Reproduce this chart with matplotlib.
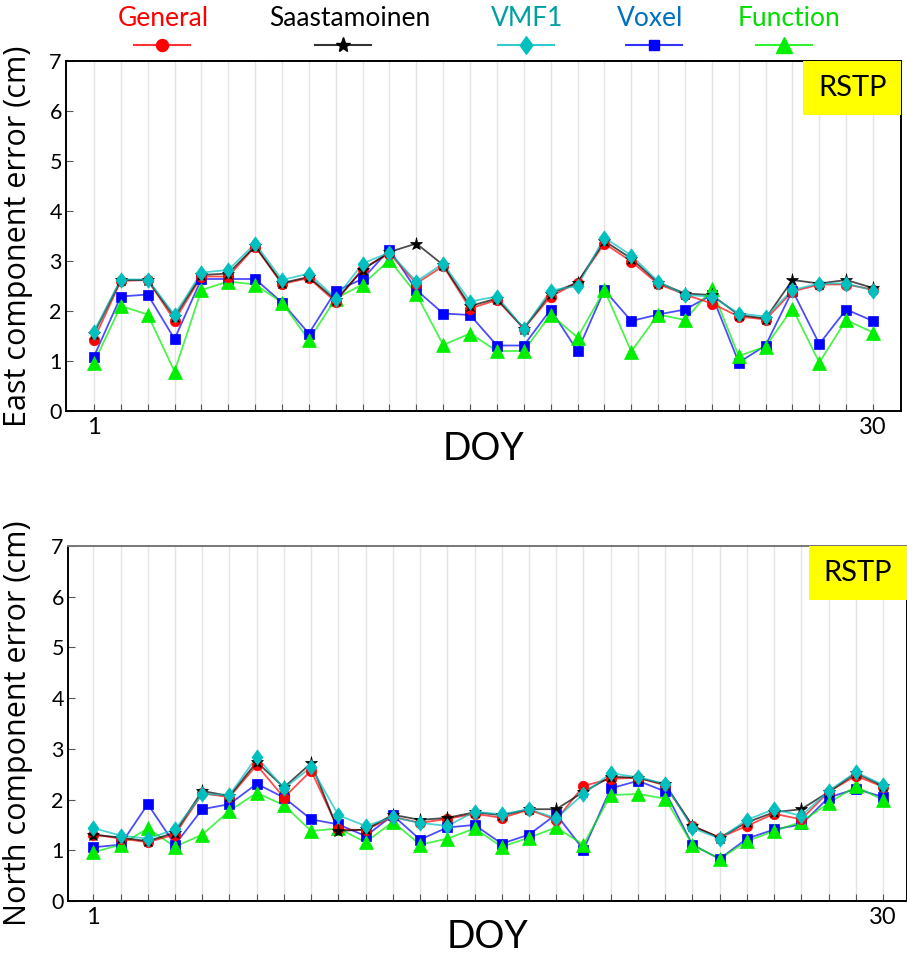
import matplotlib
matplotlib.use("Agg")
import matplotlib.pyplot as plt
from matplotlib.lines import Line2D
from matplotlib.patches import Rectangle
from matplotlib.path import Path
from matplotlib import font_manager

# ---- data -------------------------------------------------------------
days = list(range(1, 31))
models = ["General", "Saastamoinen", "VMF1", "Voxel", "Function"]

east_general = [1.43, 2.60, 2.62, 1.81, 2.69, 2.69, 3.29, 2.54, 2.66, 2.18,
                2.85, 3.15, 2.55, 2.90, 2.05, 2.22, 1.65, 2.29, 2.57, 3.35,
                2.99, 2.54, 2.33, 2.15, 1.89, 1.83, 2.39, 2.53, 2.53, 2.43]
east_saast = [1.55, 2.62, 2.62, 1.88, 2.72, 2.75, 3.30, 2.56, 2.68, 2.22,
              2.82, 3.18, 3.35, 2.92, 2.10, 2.25, 1.65, 2.35, 2.57, 3.40,
              3.05, 2.57, 2.35, 2.32, 1.92, 1.85, 2.62, 2.55, 2.62, 2.46]
east_vmf1 = [1.59, 2.63, 2.63, 1.92, 2.77, 2.82, 3.35, 2.62, 2.75, 2.25,
             2.95, 3.17, 2.59, 2.95, 2.19, 2.29, 1.65, 2.41, 2.50, 3.47,
             3.11, 2.59, 2.32, 2.29, 1.95, 1.89, 2.42, 2.55, 2.55, 2.41]
east_voxel = [1.09, 2.29, 2.33, 1.44, 2.64, 2.64, 2.64, 2.17, 1.55, 2.40,
              2.64, 3.23, 2.42, 1.95, 1.92, 1.31, 1.31, 2.03, 1.20, 2.42,
              1.80, 1.93, 2.03, 2.32, 0.97, 1.31, 2.41, 1.34, 2.03, 1.80]
east_function = [0.97, 2.10, 1.93, 0.79, 2.42, 2.59, 2.53, 2.17, 1.42, 2.25,
                 2.53, 3.02, 2.34, 1.32, 1.55, 1.20, 1.20, 1.93, 1.47, 2.42,
                 1.19, 1.93, 1.82, 2.44, 1.10, 1.29, 2.05, 0.97, 1.82, 1.57]

north_general = [1.31, 1.23, 1.16, 1.31, 2.12, 2.05, 2.68, 2.04, 2.57, 1.41,
                 1.40, 1.66, 1.54, 1.62, 1.72, 1.64, 1.80, 1.60, 2.27, 2.41,
                 2.43, 2.28, 1.48, 1.25, 1.48, 1.72, 1.61, 2.15, 2.47, 2.25]
north_saast = [1.31, 1.25, 1.18, 1.35, 2.17, 2.07, 2.74, 2.24, 2.72, 1.38,
               1.41, 1.70, 1.60, 1.64, 1.75, 1.69, 1.81, 1.81, 2.15, 2.45,
               2.43, 2.30, 1.48, 1.25, 1.55, 1.75, 1.81, 2.15, 2.52, 2.27]
north_vmf1 = [1.44, 1.29, 1.23, 1.41, 2.11, 2.09, 2.84, 2.22, 2.64, 1.69,
              1.48, 1.65, 1.54, 1.48, 1.76, 1.71, 1.81, 1.63, 2.11, 2.52,
              2.44, 2.31, 1.44, 1.23, 1.60, 1.81, 1.68, 2.17, 2.54, 2.29]
north_voxel = [1.06, 1.11, 1.91, 1.11, 1.81, 1.91, 2.31, 2.04, 1.61, 1.51,
               1.28, 1.69, 1.21, 1.45, 1.50, 1.13, 1.31, 1.71, 1.01, 2.22,
               2.37, 2.16, 1.11, 0.83, 1.23, 1.41, 1.51, 2.04, 2.21, 2.05]
north_function = [0.96, 1.11, 1.43, 1.07, 1.31, 1.78, 2.13, 1.89, 1.38, 1.43,
                  1.16, 1.56, 1.11, 1.23, 1.43, 1.07, 1.25, 1.45, 1.11, 2.09,
                  2.11, 2.02, 1.11, 0.83, 1.18, 1.38, 1.56, 1.93, 2.26, 1.99]

y_ticks = [0, 1, 2, 3, 4, 5, 6, 7]
x_tick_labels = {1: "1", 30: "30"}
station = "RSTP"

# ---- styles -----------------------------------------------------------
def pick(*names):
    avail = {f.name for f in font_manager.fontManager.ttflist}
    for n in names:
        if n in avail:
            return n
    return "DejaVu Sans"

FONT_MAIN = pick("Lato", "Open Sans", "DejaVu Sans")
FONT_NARROW = pick("Liberation Sans Narrow", "Lato", "DejaVu Sans")
FONT_LABEL = pick("Open Sans", "Noto Sans", "DejaVu Sans")

tall_diamond = Path([(0, 1), (0.72, 0), (0, -1), (-0.72, 0), (0, 1)],
                    [Path.MOVETO, Path.LINETO, Path.LINETO, Path.LINETO, Path.CLOSEPOLY])

style = {
    "General":      dict(color="#FF0000", marker="o", ms=7.5),
    "Saastamoinen": dict(color="#000000", marker="*", ms=9.5),
    "VMF1":         dict(color="#00BFBF", marker=tall_diamond, ms=11),
    "Voxel":        dict(color="#0000FF", marker="s", ms=6.5),
    "Function":     dict(color="#00EE00", marker="^", ms=9.5),
}
text_colors = {
    "General": "#FF0000", "Saastamoinen": "#000000", "VMF1": "#00A0A0",
    "Voxel": "#0070C0", "Function": "#00DD00",
}
draw_order = ["Voxel", "Function", "General", "Saastamoinen", "VMF1"]

W, H = 907, 956
fig = plt.figure(figsize=(W / 100, H / 100), dpi=100)


def px_box(left, top, right, bottom):
    return [left / W, 1 - bottom / H, (right - left) / W, (bottom - top) / H]


def panel(ax, series, ylabel, xlim, top_spine_color, label_right_px, left_px):
    for d in days:
        ax.axvline(d, color="#E4E4E4", lw=1.0, zorder=0)
    for name in draw_order:
        st = style[name]
        ax.plot(days, series[name], color=st["color"], lw=1.3, alpha=0.7, zorder=2)
        ax.plot(days, series[name], ls="none", marker=st["marker"], ms=st["ms"],
                color=st["color"], mec=st["color"], mew=0.5, zorder=3)
    ax.set_xlim(*xlim)
    ax.set_ylim(0, 7)
    ax.set_yticks(y_ticks)
    ax.set_yticklabels([str(t) for t in y_ticks], fontsize=15.5, family=FONT_MAIN)
    ax.set_xticks(days)
    ax.set_xticklabels([x_tick_labels.get(d, "") for d in days],
                       fontsize=17, family=FONT_NARROW)
    ax.tick_params(axis="both", direction="in", length=5, width=0.8,
                   color="#555555", pad=4)
    ax.tick_params(axis="y", pad=3)
    ax.set_xlabel("DOY", fontsize=27, family=FONT_NARROW, labelpad=-5)
    ax.set_ylabel(ylabel, fontsize=22, family=FONT_LABEL)
    width_px = ax.get_position().width * W
    ax.yaxis.set_label_coords((label_right_px - left_px) / width_px, 0.5)
    for s in ax.spines.values():
        s.set_color("#000000")
        s.set_linewidth(1.4)
    ax.spines["top"].set_color(top_spine_color)
    # station tag in the upper-right corner
    ax.add_patch(Rectangle((0.883, 0.847), 0.117, 0.153, transform=ax.transAxes,
                           facecolor="#FFFF00", edgecolor="none", zorder=4))
    ax.text(0.9415, 0.923, station, transform=ax.transAxes, ha="center",
            va="center", fontsize=21, family=FONT_MAIN, zorder=5)


ax1 = fig.add_axes(px_box(66, 61, 901, 411))
panel(ax1, {"General": east_general, "Saastamoinen": east_saast, "VMF1": east_vmf1,
            "Voxel": east_voxel, "Function": east_function},
      "East component error (cm)", (-0.04, 31.04), "#000000", 33, 66)

ax2 = fig.add_axes(px_box(68, 546, 907, 901))
panel(ax2, {"General": north_general, "Saastamoinen": north_saast, "VMF1": north_vmf1,
            "Voxel": north_voxel, "Function": north_function},
      "North component error (cm)", (0.07, 30.88), "#777777", 33, 68)
ax2.xaxis.labelpad = -6

# ---- legend row across the top ----------------------------------------
legend_x = {"General": 162, "Saastamoinen": 343, "VMF1": 526, "Voxel": 654, "Function": 784}
text_x = {"General": 163, "Saastamoinen": 350, "VMF1": 527, "Voxel": 650, "Function": 789}
for name in models:
    st = style[name]
    cx = legend_x[name]
    xs = [(cx - 28) / W, cx / W, (cx + 28) / W]
    ys = [1 - 45 / H] * 3
    fig.add_artist(Line2D(xs, ys, transform=fig.transFigure, color=st["color"],
                          lw=1.5, alpha=0.8))
    fig.add_artist(Line2D([cx / W], [1 - 45 / H], transform=fig.transFigure,
                          ls="none", marker=st["marker"], ms=st["ms"] * 1.15,
                          color=st["color"], mec=st["color"]))
    fig.text(text_x[name] / W, 1 - 18 / H, name, ha="center", va="center",
             fontsize=19, family=FONT_MAIN, color=text_colors[name])

fig.savefig("out.png", dpi=100)
